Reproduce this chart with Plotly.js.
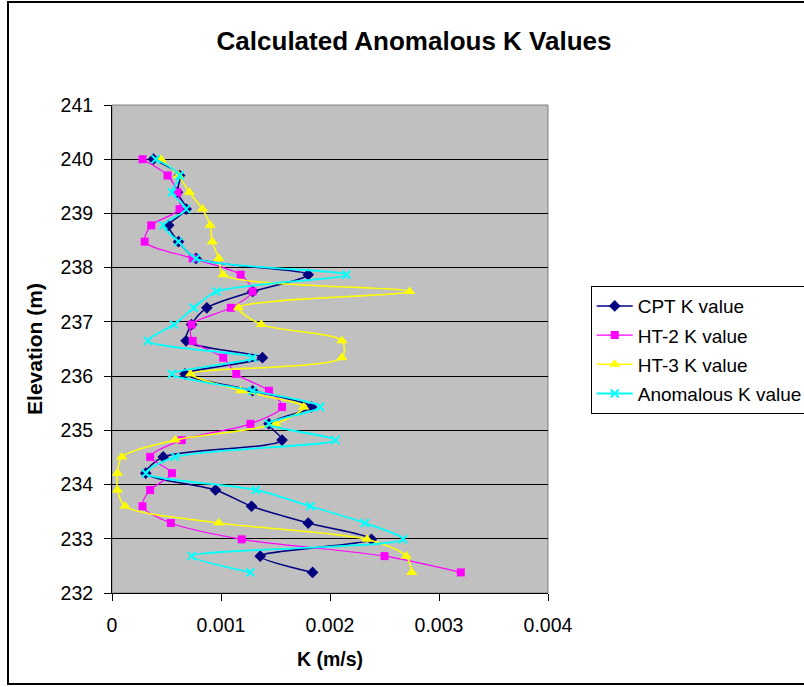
<!DOCTYPE html>
<html>
<head>
<meta charset="utf-8">
<script src="https://cdn.plot.ly/plotly-3.0.1.min.js"></script>
<style>
  html, body { margin: 0; padding: 0; background: #ffffff; }
  #wrap { position: relative; width: 804px; height: 687px; overflow: hidden; }
  #chart { position: absolute; left: 0; top: 0; width: 804px; height: 687px; }
  #frame { position: absolute; left: 7px; top: 1px; width: 820px; height: 684px; border: 2px solid #000; box-sizing: border-box; pointer-events: none; }
</style>
</head>
<body>
<div id="wrap">
  <div id="chart"></div>
  <div id="frame"></div>
</div>
<script>
// Elevation (m) of each reading
const elevation = [240.00, 239.70, 239.39, 239.08, 238.78, 238.48, 238.17, 237.87, 237.56, 237.26,
                   236.95, 236.65, 236.34, 236.04, 235.73, 235.43, 235.12, 234.82, 234.51, 234.21,
                   233.90, 233.60, 233.29, 232.99, 232.68, 232.38];

// K values (m/s)
const cptK = [0.00038, 0.00062, 0.00060, 0.00068, 0.00052, 0.00061, 0.00077, 0.00180, 0.00129, 0.00087,
              0.00073, 0.00068, 0.00138, 0.00067, 0.00129, 0.00183, 0.00144, 0.00156, 0.00047, 0.00031,
              0.00095, 0.00128, 0.00180, 0.00238, 0.00136, 0.00184];
const ht2K = [0.00028, 0.00051, 0.00060, 0.00062, 0.00036, 0.00030, 0.00074, 0.00118, 0.00129, 0.00109,
              0.00073, 0.00074, 0.00102, 0.00114, 0.00144, 0.00156, 0.00127, 0.00064, 0.00035, 0.00055,
              0.00035, 0.00028, 0.00054, 0.00119, 0.00250, 0.00320];
const ht3K = [0.00045, 0.00061, 0.00071, 0.00083, 0.00090, 0.00092, 0.00098, 0.00102, 0.00273, 0.00116,
              0.00137, 0.00211, 0.00211, 0.00072, 0.00118, 0.00176, 0.00150, 0.00058, 0.00009, 0.00005,
              0.00005, 0.00012, 0.00098, 0.00234, 0.00270, 0.00275];
const anomK = [0.00040, 0.00062, 0.00055, 0.00068, 0.00047, 0.00061, 0.00077, 0.00215, 0.00096, 0.00075,
               0.00057, 0.00033, 0.00129, 0.00055, 0.00129, 0.00191, 0.00144, 0.00205, 0.00058, 0.00031,
               0.00132, 0.00182, 0.00232, 0.00267, 0.00073, 0.00127];

const seriesNames = ['CPT K value', 'HT-2 K value', 'HT-3 K value', 'Anomalous K value'];

const xTickVals = [0, 0.001, 0.002, 0.003, 0.004];
const xTickText = ['0', '0.001', '0.002', '0.003', '0.004'];
const yTickVals = [232, 233, 234, 235, 236, 237, 238, 239, 240, 241];
const yTickText = ['232', '233', '234', '235', '236', '237', '238', '239', '240', '241'];

const font = 'Arial, "Liberation Sans", sans-serif';

function tr(x, name, color, symbol, size, lw, mline, grp) {
  return {
    x: x, y: elevation, name: name, type: 'scatter', mode: 'lines+markers',
    legendgroup: grp,
    line: { color: color, width: lw, shape: 'spline', smoothing: 0.8 },
    marker: { color: color, symbol: symbol, size: size, line: mline || { width: 0 } },
    cliponaxis: false
  };
}

const data = [
  tr(cptK, seriesNames[0], '#000080', 'diamond', 9, 1.5, null, 'g1'),
  tr(ht2K, seriesNames[1], '#FF00FF', 'square', 8, 1.2, null, 'g2'),
  tr(ht3K, seriesNames[2], '#FFFF00', 'triangle-up', 10, 1.5, null, 'g3'),
  tr(anomK, seriesNames[3], '#00FFFF', 'x-thin', 8, 1.8, { color: '#00FFFF', width: 2 }, 'g4')
];

const layout = {
  width: 804, height: 687,
  paper_bgcolor: '#ffffff',
  plot_bgcolor: '#C0C0C0',
  margin: { l: 112, r: 256, t: 105, b: 94, autoexpand: false },
  font: { family: font, color: '#000', size: 19 },
  title: { text: '<b>Calculated Anomalous K Values</b>', font: { family: font, size: 26, color: '#000' },
           x: 0.515, xref: 'container', y: 0.94, yref: 'container', xanchor: 'center', yanchor: 'middle' },
  xaxis: {
    range: [0, 0.004], tickvals: xTickVals, ticktext: xTickText,
    showgrid: false, zeroline: false, showline: true, linecolor: '#000', linewidth: 1,
    ticks: 'outside', ticklen: 7, tickcolor: '#000', tickwidth: 1, ticklabelstandoff: 8,
    tickfont: { family: font, size: 19.5, color: '#000' },
    title: { text: '<b>K (m/s)</b>', font: { family: font, size: 19.5, color: '#000' }, standoff: 16 }
  },
  yaxis: {
    range: [232, 241], tickvals: yTickVals, ticktext: yTickText,
    showgrid: true, gridcolor: '#000', gridwidth: 1, zeroline: false,
    showline: true, linecolor: '#000', linewidth: 1,
    ticks: 'outside', ticklen: 7, tickcolor: '#000', tickwidth: 1, ticklabelstandoff: 7,
    tickfont: { family: font, size: 19.5, color: '#000' },
    title: { text: '<b>Elevation (m)</b>', font: { family: font, size: 21, color: '#000' }, standoff: 12 }
  },
  shapes: [
    { type: 'rect', xref: 'paper', yref: 'paper', x0: 0, x1: 1, y0: 0, y1: 1,
      line: { color: '#808080', width: 1 }, fillcolor: 'rgba(0,0,0,0)', layer: 'below' }
  ],
  legend: {
    x: 1.098, y: 0.629, xanchor: 'left', yanchor: 'top',
    bgcolor: '#ffffff', bordercolor: '#000', borderwidth: 1,
    font: { family: font, size: 19, color: '#000' },
    traceorder: 'grouped', tracegroupgap: 1.5, itemwidth: 36
  },
  showlegend: true
};

Plotly.newPlot('chart', data, layout, { staticPlot: true, displayModeBar: false });
</script>
</body>
</html>
